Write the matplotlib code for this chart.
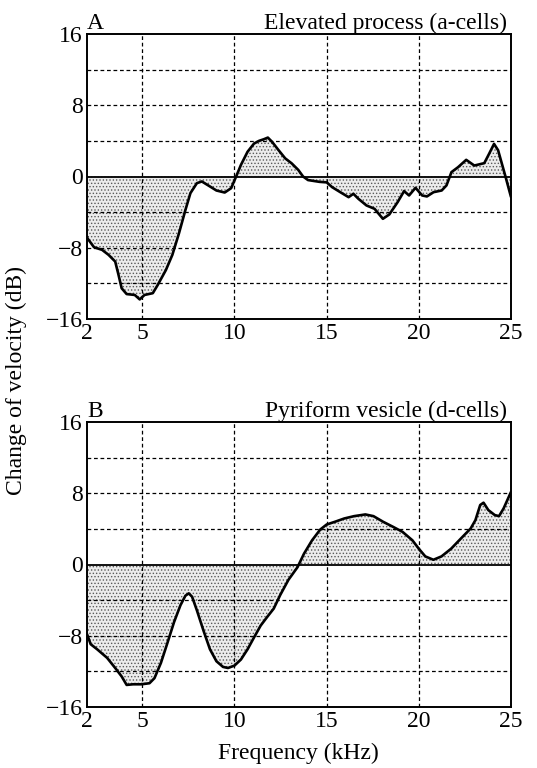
import matplotlib
matplotlib.use("Agg")
import matplotlib.pyplot as plt
import numpy as np

plt.rcParams['font.family'] = ['Liberation Serif', 'DejaVu Serif']
plt.rcParams['hatch.linewidth'] = 0.6

# Panel A: Elevated process (a-cells)
freq_a = [2.0, 2.02, 2.38, 2.82, 3.17, 3.53, 3.71, 3.88, 4.15, 4.59, 4.86, 5.12, 5.57, 5.83,
          6.28, 6.63, 6.99, 7.34, 7.61, 7.96, 8.23, 8.67, 9.02, 9.47, 9.82, 10.09, 10.35,
          10.71, 11.06, 11.33, 11.6, 11.81, 12.04, 12.39, 12.75, 13.1, 13.46, 13.72, 13.99,
          14.61, 15.0, 15.3, 15.74, 16.19, 16.45, 16.72, 17.16, 17.6, 18.05, 18.4, 18.85,
          19.2, 19.47, 19.82, 20.18, 20.44, 20.8, 21.24, 21.5, 21.77, 22.13, 22.57, 23.01,
          23.55, 23.81, 24.08, 24.3, 24.7, 25.0]
vel_a = [-6.75, -6.93, -7.94, -8.24, -8.8, -9.55, -11.05, -12.55, -13.2, -13.3, -13.8, -13.3,
         -13.1, -12.2, -10.5, -8.8, -6.37, -3.75, -1.87, -0.75, -0.56, -1.12, -1.57, -1.8,
         -1.31, 0.0, 1.3, 2.78, 3.7, 4.0, 4.19, 4.37, 3.89, 2.96, 2.04, 1.48, 0.74, 0.0,
         -0.4, -0.6, -0.66, -1.2, -1.76, -2.32, -1.94, -2.5, -3.25, -3.63, -4.75, -4.26,
         -2.88, -1.64, -2.13, -1.27, -2.13, -2.24, -1.76, -1.57, -1.0, 0.49, 1.05, 1.87,
         1.23, 1.5, 2.54, 3.66, 2.95, 0.0, -2.3]

# Panel B: Pyriform vesicle (d-cells)
freq_b = [2.0, 2.2, 2.55, 3.09, 3.53, 3.88, 4.15, 4.5, 4.95, 5.39, 5.66, 6.01, 6.37, 6.72,
          7.07, 7.34, 7.52, 7.7, 7.96, 8.32, 8.67, 9.02, 9.38, 9.65, 10.0, 10.35, 10.71,
          11.06, 11.42, 11.77, 12.13, 12.48, 12.93, 13.42, 13.77, 14.21, 14.65, 15.0, 15.44,
          15.96, 16.49, 17.1, 17.54, 18.07, 18.6, 19.12, 19.65, 20.0, 20.35, 20.79, 21.23,
          21.75, 22.28, 22.81, 23.07, 23.33, 23.51, 23.77, 24.12, 24.35, 24.6, 25.0]
vel_b = [-7.81, -8.95, -9.52, -10.48, -11.62, -12.57, -13.52, -13.45, -13.45, -13.33, -12.76,
         -11.05, -8.76, -6.48, -4.57, -3.5, -3.24, -3.62, -5.14, -7.43, -9.52, -10.86,
         -11.5, -11.62, -11.35, -10.67, -9.52, -8.19, -6.86, -5.9, -4.95, -3.43, -1.71,
         -0.3, 1.21, 2.72, 3.92, 4.49, 4.79, 5.17, 5.43, 5.62, 5.43, 4.79, 4.23, 3.66,
         2.72, 1.77, 0.91, 0.53, 0.91, 1.77, 2.91, 4.04, 4.98, 6.68, 6.94, 6.11, 5.55,
         5.43, 6.3, 8.15]

panels = [
    ("A", "Elevated process (a-cells)", freq_a, vel_a),
    ("B", "Pyriform vesicle (d-cells)", freq_b, vel_b),
]

W, H = 537, 768
fig = plt.figure(figsize=(W / 100, H / 100), dpi=100)

# axes boxes in pixels: left, right, top, bottom
boxes = [(87, 511, 34, 319), (87, 511, 422, 707)]

fs = 17
for (lab, title, fx, vy), (l, r, t, b) in zip(panels, boxes):
    ax = fig.add_axes([l / W, 1 - b / H, (r - l) / W, (b - t) / H])
    x = np.array(fx)
    y = np.array(vy)
    ax.fill_between(x, y, 0, facecolor='#ececec', edgecolor='#5a5a5a',
                    hatch='.....', linewidth=0, zorder=1, interpolate=True)
    for gx in [5, 10, 15, 20]:
        ax.axvline(gx, color='black', lw=0.9, ls=(0, (3, 2.2)), zorder=2)
    for gy in [-12, -8, -4, 4, 8, 12]:
        ax.axhline(gy, color='black', lw=0.9, ls=(0, (3, 2.2)), zorder=2)
    ax.axhline(0, color='black', lw=1.3, zorder=3)
    ax.plot(x, y, color='black', lw=1.9, zorder=4, solid_joinstyle='round',
            solid_capstyle='round')
    ax.set_xlim(2, 25)
    ax.set_ylim(-16, 16)
    ax.set_xticks([2, 5, 10, 15, 20, 25])
    ax.set_yticks([-16, -8, 0, 8, 16])
    ax.set_yticklabels(['\u221216', '\u22128', '0', '8', '16'])
    ax.tick_params(length=0, labelsize=fs, pad=3)
    for s in ax.spines.values():
        s.set_linewidth(1.4)
        s.set_zorder(5)
    ax.text(0.0, 1.0, lab, transform=ax.transAxes, ha='left', va='bottom', fontsize=fs)
    ax.text(0.99, 1.0, title, transform=ax.transAxes, ha='right', va='bottom', fontsize=fs)

fig.text(16 / W, 1 - 380 / H, 'Change of velocity (dB)', rotation=90, ha='center',
         va='center', fontsize=fs)
fig.text(298 / W, 1 - 753 / H, 'Frequency (kHz)', ha='center', va='center', fontsize=fs)

fig.savefig('out.png', dpi=100)
